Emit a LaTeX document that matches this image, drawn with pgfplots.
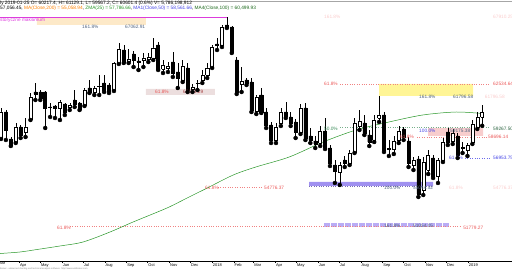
\documentclass[border=0pt]{standalone}
\usepackage{pgfplots}
\pgfplotsset{compat=1.18}
\usepackage{pgfplotstable}
\usepackage{fontspec}
\setmainfont{Liberation Sans}
\definecolor{fibred}{RGB}{235,90,90}
\definecolor{fibline}{RGB}{240,130,130}
\definecolor{fibblue}{RGB}{70,70,230}
\definecolor{fibtxt}{RGB}{80,100,130}
\definecolor{fibgreen}{RGB}{60,140,90}
\definecolor{lav}{RGB}{160,145,240}
\definecolor{lav2}{RGB}{185,172,245}
\definecolor{peach}{RGB}{253,233,200}
\definecolor{yel}{RGB}{255,245,150}
\definecolor{pinkband}{RGB}{248,205,205}
\definecolor{greyband}{RGB}{236,222,222}
\definecolor{magline}{RGB}{220,60,220}
\definecolor{maline}{RGB}{40,150,40}
\definecolor{faint}{RGB}{250,205,205}

\pgfplotstableread{
k O H L C
0 58633 60928 58557 60622
1 60622 60775 58480 59245
2 58557 58710 58021 58098
3 58327 59781 58251 59475
4 59475 59628 58633 58863
5 59092 60163 58710 59475
6 60087 62076 60010 61770
7 62152 62841 61540 61999
8 62152 62305 61540 61693
9 62152 62229 59398 60928
10 61005 61311 60240 60966
11 61081 61158 60163 60928
12 60928 61540 60010 61387
13 61234 61311 60393 60622
14 61005 61311 60775 61158
15 61540 62305 61005 61234
16 61311 61387 60775 60852
17 61158 62458 61081 62305
18 62458 63070 62076 62152
19 62152 62611 61923 62458
20 62573 63453 61923 62611
21 62841 63453 62152 62305
22 62688 62841 62076 62229
23 62305 64447 62229 64371
24 64371 65901 64294 65442
25 65365 65748 64371 64447
26 64524 65442 64371 64677
27 65059 65289 64065 64600
28 64524 64830 63835 64447
29 64600 65136 64065 64753
30 64677 65136 64447 64830
31 64753 66283 64600 65518
32 65748 65977 63835 63912
33 63912 64600 63606 64218
34 63988 64447 63682 64141
35 64447 65212 63300 63606
36 63682 64371 62458 63223
37 63070 64600 62917 64141
38 63988 64371 62152 62305
39 62382 62764 62152 62535
40 62802 63070 62305 62841
41 63070 63835 62841 63453
42 63453 64371 63223 63988
43 64065 65748 63988 65595
44 65824 66283 65365 65748
45 65748 67278 65595 67125
46 67278 67890 67048 67125
47 67125 67201 65136 65212
48 64600 64830 61999 62152
49 62764 64065 62152 62994
50 63070 63223 62688 62841
51 62917 63223 60622 60775
52 60699 61923 60469 61770
53 61923 62458 60546 60622
54 60622 60928 59398 59628
55 59628 59857 58251 58480
56 58480 59781 58251 59475
57 59781 60928 59551 60622
58 60622 61387 60163 60316
59 60240 60622 59551 59781
60 59857 60087 58633 59092
61 59092 61234 58939 60928
62 60928 61311 58480 58633
63 58786 59398 58251 58480
64 58404 58786 57868 58174
65 58251 59551 58021 59169
66 59169 60163 57792 57945
67 57868 58098 56491 56721
68 56568 56950 55191 56109
69 56032 56797 55038 56568
70 56950 57256 56415 56721
71 56721 57715 56568 57486
72 57562 60163 57486 59781
73 59551 60775 59245 59934
74 59781 60393 58863 59016
75 58863 59245 58021 58327
76 58480 60393 58327 60010
77 60163 61846 59857 60393
78 60393 60622 57562 57715
79 57792 58480 57256 57830
80 57792 58786 57409 58404
81 58480 59551 58251 59169
82 59322 59475 58480 58710
83 58404 58710 56415 56721
84 56568 57180 56185 56950
85 57027 57256 54120 54349
86 54655 57180 54273 56797
87 56185 57715 55879 57333
88 57103 57333 55573 55726
89 55726 57103 55191 56950
90 56950 58633 56797 58327
91 59092 59398 58098 58327
92 58404 59322 58174 59016
93 58786 59016 57103 57333
94 57868 58327 57486 57906
95 57715 58251 57256 58098
96 58327 60010 58174 59704
97 59475 60622 59322 60240
98 60217 61129 59567 60601
}\candles

\begin{document}
\begin{tikzpicture}
\begin{axis}[
  at={(0,9bp)}, anchor=south west,
  scale only axis, width=512bp, height=261bp,
  xmin=-0.2037, xmax=104.07, ymin=49223.5, ymax=69190,
  axis y line=none, axis x line=bottom,
  axis line style={-, black, line width=0.4pt},
  ytick=\empty,
  xtick={3.714,8,12.43,16.71,21.14,25.57,29.86,34.29,38.57,43,47.43,51.43,55.86,60.14,64.57,68.86,73.29,77.71,82,86.43,90.71,95.14},
  xticklabels={Apr,May,Jun,Jul,Aug,Sep,Oct,Nov,Dec,2018,Feb,Mar,Apr,May,Jun,Jul,Aug,Sep,Oct,Nov,Dec,2019},
  xticklabel style={anchor=north west, font=\fontsize{4}{4.5}\selectfont, inner sep=0pt, xshift=0.6bp, yshift=-0.6bp},
  major tick length=2bp, tick align=outside,
  tick style={black, line width=0.3pt},
  clip=false,
]
% --- background bands
\addplot[fill=peach, draw=none] coordinates {(7.33,67813)(29.53,67813)(29.53,67278)(7.33,67278)(7.33,67813)};
\addplot[fill=yel, draw=none] coordinates {(76.99,62764)(96.13,62764)(96.13,61846)(76.99,61846)(76.99,62764)};
\addplot[fill=greyband, draw=none] coordinates {(29.53,62382)(43.58,62382)(43.58,61923)(29.53,61923)(29.53,62382)};
\addplot[fill=pinkband, draw=none] coordinates {(86.97,59398)(98.17,59398)(98.17,58786)(86.97,58786)(86.97,59398)};
\addplot[fill=lav, draw=none] coordinates {(62.73,55267)(87.98,55267)(87.98,54961)(62.73,54961)(62.73,55267)};
\addplot[lav!75!black, dotted, line width=0.4pt] coordinates {(62.73,54961)(87.98,54961)};
\addplot[lav2, line width=3.6bp, dash pattern=on 2.6bp off 0.9bp] coordinates {(65.78,51977)(91.24,51977)};
% --- level lines
\addplot[gray!70, line width=0.5pt] coordinates {(-0.2037,69113)(104.07,69113)};
\addplot[magline, line width=0.4pt] coordinates {(-0.2037,67851)(46.23,67851)};
\addplot[fibline, dotted, line width=0.4pt] coordinates {(69.04,62726)(99.59,62726)};
\addplot[fibgreen!70, dotted, line width=0.4pt] coordinates {(69.04,59436)(99.59,59436)};
\addplot[fibline, dotted, line width=0.4pt] coordinates {(84.73,58671)(98.98,58671)};
\addplot[fibblue!80, dotted, line width=0.4pt] coordinates {(94.5,57103)(99.59,57103)};
\addplot[fibline, dotted, line width=0.4pt] coordinates {(44.2,54885)(53.16,54885)};
\addplot[fibline, dotted, line width=0.4pt] coordinates {(14.05,51901)(93.48,51901)};
% --- moving average
\addplot[maline, line width=0.5pt, smooth] coordinates {
(-0.2,49797)(3.87,49912)(7.33,50103)(12.0,50371)(16.7,50677)(22.2,51442)(26.9,52207)(33.8,53278)(37.9,54043)(42.0,54808)(47.3,55803)(51.9,56415)(58.7,57180)(65.6,58327)(72.3,59245)(79.0,59857)(85.9,60393)(92.7,60622)(98.2,60500)};
% --- candle wicks (low to high)
\addplot[only marks, mark=none, error bars/.cd, y dir=plus, y explicit, error mark=none,
  error bar style={black, line width=0.45bp}]
  table[x=k, y=L, y error plus expr={\thisrow{H}-\thisrow{L}}] {\candles};
% --- candle bodies (open to close), white when up, black when down
\pgfplotsinvokeforeach{0,...,98}{
  \pgfplotstablegetelem{#1}{O}\of\candles \edef\vO{\pgfplotsretval}
  \pgfplotstablegetelem{#1}{C}\of\candles \edef\vC{\pgfplotsretval}
  \pgfmathsetmacro\xa{#1-0.31}\pgfmathsetmacro\xb{#1+0.31}
  \ifnum\vC>\vO\relax \def\fc{white}\else\def\fc{black}\fi
  \edef\cmd{\noexpand\addplot[draw=black, fill=\fc, line width=0.45bp, line join=miter]
    coordinates {(\xa,\vO)(\xb,\vO)(\xb,\vC)(\xa,\vC)(\xa,\vO)};}
  \cmd
}
% --- labels
\tikzset{lbl/.style={anchor=base west, inner sep=0pt, font=\fontsize{4.8}{5}\selectfont}}
\node[lbl, magline] at (axis cs:-0.2,67545) {\llap{Hi}storyczne maksimum};
\node[lbl, fibtxt] at (axis cs:16.5,67010) {161.8\%};
\node[lbl, fibtxt] at (axis cs:25.25,67010) {67062.91};
\node[lbl, faint] at (axis cs:65.78,67780) {161.8\%};
\node[lbl, faint] at (axis cs:100.2,67780) {67910.25};
\node[lbl, fibred] at (axis cs:65.78,62620) {61.8\%};
\node[lbl, fibred] at (axis cs:100.2,62620) {62534.64};
\node[lbl, fibtxt] at (axis cs:85.13,61690) {161.8\%};
\node[lbl, fibtxt] at (axis cs:92.06,61690) {61796.58};
\node[lbl, faint] at (axis cs:98.5,61690) {61796.58};
\node[lbl, fibred] at (axis cs:31.36,62070) {61.8\%};
\node[lbl, fibred!70!black] at (axis cs:37.07,62070) {62613.29};
\node[lbl, fibgreen] at (axis cs:65.78,59200) {50.0\%};
\node[lbl, fibgreen!70!black] at (axis cs:100.2,59200) {59267.50};
\node[lbl, fibblue] at (axis cs:85.13,59090) {100.0\%};
\node[lbl, fibtxt] at (axis cs:91.45,59090) {59175.38};
\node[lbl, fibred] at (axis cs:81.26,58560) {61.8\%};
\node[lbl, fibred] at (axis cs:99.19,58560) {58696.14};
\node[lbl, fibblue] at (axis cs:91.24,56950) {61.8\%};
\node[lbl, fibblue] at (axis cs:100.2,56950) {56953.75};
\node[lbl, fibred] at (axis cs:41.55,54730) {61.8\%};
\node[lbl, fibred] at (axis cs:53.56,54730) {54776.37};
\node[lbl, fibtxt] at (axis cs:78.0,54730) {100.0\%};
\node[lbl, fibtxt] at (axis cs:83.9,54730) {55044.52};
\node[lbl, faint] at (axis cs:91.24,54730) {61.8\%};
\node[lbl, faint] at (axis cs:100.2,54730) {54776.37};
\node[lbl, fibtxt] at (axis cs:78.0,51820) {161.8\%};
\node[lbl, fibtxt] at (axis cs:83.9,51820) {51054.05};
\node[lbl, fibred] at (axis cs:11.4,51670) {61.8\%};
\node[lbl, fibred] at (axis cs:94.1,51670) {51779.27};
\node[anchor=north west, inner sep=0pt, font=\fontsize{4}{4.5}\selectfont] at ([xshift=0.6bp, yshift=-0.6bp]axis cs:-0.714,49223.5) {Mar};
\end{axis}
% --- header and footer
\node[anchor=base west, inner sep=0pt, font=\fontsize{4.8}{5}\selectfont] at (0bp,265.6bp) {\llap{WIG - Week}ly 2019-01-25 O= 60217.4, H= 61129.1, L= 59567.2, C= 60601.4 (0.6\%) V= 5,786,198,912};
\node[anchor=base west, inner sep=0pt, font=\fontsize{4.8}{5}\selectfont] at (0bp,260.8bp) {57,056.45, \textcolor{orange}{MA(Close,200) = 55,058.94}, \textcolor{maline}{ZMA(25) = 57,786.66}, \textcolor{fibblue}{MA1(Close,50) = 58,561.66}, \textcolor{maline!70!black}{MA4(Close,100) = 60,499.93}};
\node[anchor=base west, inner sep=0pt, font=\fontsize{2.3}{2.5}\selectfont, gray] at (0bp,0.9bp) {\llap{Ami}broker - advanced charting and technical analysis software. http://www.amibroker.com};
\pgfresetboundingbox
\path (0,0) rectangle (512bp,270bp);
\end{tikzpicture}
\end{document}
